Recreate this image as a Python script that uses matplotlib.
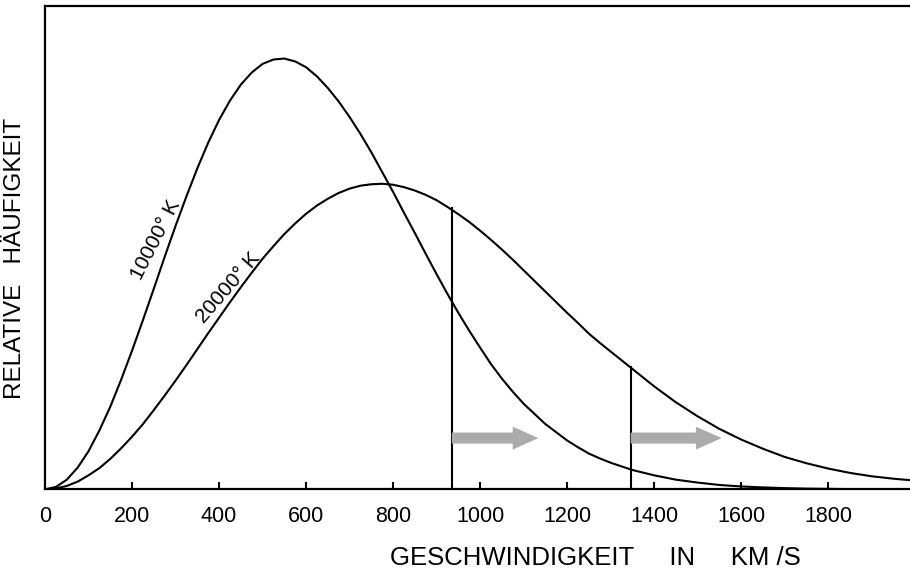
# ============================================================================
# MAXWELL-VERTEILUNG: RELATIVE HAEUFIGKEIT DER GESCHWINDIGKEITEN
# ============================================================================

import matplotlib
matplotlib.use('Agg')
import matplotlib.pyplot as plt

# ============================================================================
# 1. DATEN
# ============================================================================

geschwindigkeit = [0, 25, 50, 75, 100, 125, 150, 175, 200, 225, 250, 275, 300,
                   325, 350, 375, 400, 425, 450, 475, 500, 525, 550, 575, 600,
                   625, 650, 675, 700, 725, 750, 775, 800, 825, 850, 875, 900,
                   925, 950, 975, 1000, 1025, 1050, 1075, 1100, 1125, 1150,
                   1175, 1200, 1225, 1250, 1275, 1300,
                   1350, 1400, 1450, 1500, 1550, 1600, 1650, 1700, 1750, 1800,
                   1850, 1900, 1950, 1988]

kurve_10000 = [0.0, 0.005, 0.020, 0.045, 0.079, 0.122, 0.171, 0.227, 0.287,
               0.350, 0.415, 0.481, 0.545, 0.606, 0.664, 0.717, 0.764, 0.804,
               0.837, 0.862, 0.880, 0.889, 0.891, 0.885, 0.873, 0.854, 0.830,
               0.802, 0.770, 0.735, 0.697, 0.656, 0.615, 0.572, 0.530, 0.487,
               0.445, 0.404, 0.365, 0.328, 0.293, 0.259, 0.229, 0.202, 0.177,
               0.156, 0.135, 0.118, 0.101, 0.087, 0.074, 0.064, 0.055,
               0.040, 0.029, 0.020, 0.014, 0.009, 0.006, 0.004, 0.0025, 0.0015,
               0.001, 0.0005, 0.0, 0.0, 0.0]

kurve_20000 = [0.0, 0.002, 0.007, 0.016, 0.029, 0.044, 0.063, 0.085, 0.109,
               0.135, 0.164, 0.194, 0.225, 0.257, 0.290, 0.323, 0.355, 0.387,
               0.418, 0.448, 0.477, 0.503, 0.528, 0.550, 0.570, 0.587, 0.601,
               0.613, 0.622, 0.628, 0.631, 0.632, 0.630, 0.625, 0.618, 0.609,
               0.598, 0.584, 0.569, 0.553, 0.535, 0.516, 0.496, 0.475, 0.453,
               0.431, 0.409, 0.387, 0.365, 0.344, 0.322, 0.303, 0.285,
               0.249, 0.213, 0.180, 0.151, 0.125, 0.103, 0.084, 0.067, 0.054,
               0.043, 0.034, 0.027, 0.022, 0.019]

# Grenzgeschwindigkeiten (senkrechte Linien) und Pfeile
grenzen = [935, 1346]
grenz_hoehen = [0.581, 0.253]
pfeil_enden = [1134, 1555]
pfeil_hoehe = 0.106

x_ticks = [0, 200, 400, 600, 800, 1000, 1200, 1400, 1600, 1800]

# ============================================================================
# 2. GRAFIK
# ============================================================================

plt.rcParams['font.family'] = ['Liberation Sans', 'DejaVu Sans']

fig = plt.figure(figsize=(9.1, 5.73), dpi=100)
ax = fig.add_axes([0.0495, 0.146, 0.9505, 0.8438])

ax.plot(geschwindigkeit, kurve_10000, color='black', lw=1.5)
ax.plot(geschwindigkeit, kurve_20000, color='black', lw=1.5)

# senkrechte Linien bis zur 20000 K Kurve
for xg, hg in zip(grenzen, grenz_hoehen):
    ax.plot([xg, xg], [0, hg], color='black', lw=1.5)

# graue Pfeile
for xg, xe in zip(grenzen, pfeil_enden):
    ax.annotate('', xy=(xe, pfeil_hoehe), xytext=(xg, pfeil_hoehe),
                arrowprops=dict(arrowstyle='simple,head_length=1.85,head_width=1.65,tail_width=0.8',
                                color='#ababab', lw=0, shrinkA=0, shrinkB=0))

# Kurvenbeschriftungen
ax.text(254, 0.516, '10000° K', rotation=63, fontsize=15,
        ha='center', va='center')
ax.text(421, 0.418, '20000° K', rotation=49, fontsize=15,
        ha='center', va='center')

ax.set_xlim(0, 1988)
ax.set_ylim(0, 1)
ax.set_xticks(x_ticks)
ax.set_yticks([])
ax.tick_params(axis='x', direction='in', length=5, width=1.5, pad=12,
               labelsize=15.5)

ax.spines['right'].set_visible(False)
for s in ['left', 'bottom', 'top']:
    ax.spines[s].set_linewidth(1.6)

ax.set_xlabel('GESCHWINDIGKEIT     IN     KM /S', fontsize=18.5)
ax.xaxis.set_label_coords(0.636, -0.118)
ax.set_ylabel('RELATIVE   HÄUFIGKEIT', fontsize=17.5)
ax.yaxis.set_label_coords(-0.022, 0.478)

plt.savefig('out.png', dpi=100)
